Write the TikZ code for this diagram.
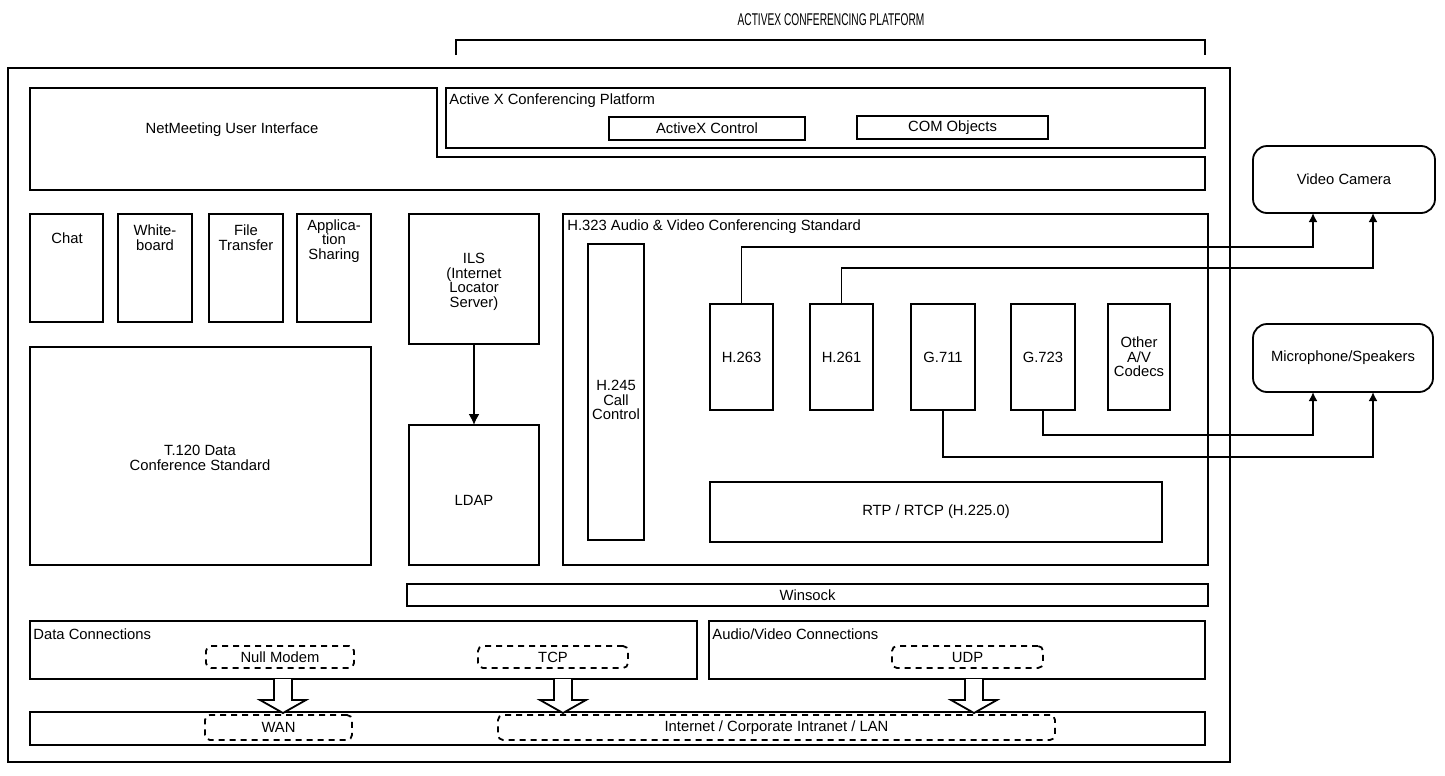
\documentclass[tikz,border=0pt]{standalone}
\usepackage{fontspec}
\usepackage{graphicx}
\setmainfont{Liberation Sans}
\usetikzlibrary{arrows.meta}
\tikzset{
  box/.style={draw, line width=0.9pt, inner sep=0pt, outer sep=0pt},
  dbox/.style={draw, line width=0.9pt, dash pattern=on 3pt off 2.5pt, rounded corners=2.5pt, inner sep=0pt, outer sep=0pt},
  rbox/.style={draw, line width=0.9pt, rounded corners=7pt, inner sep=0pt, outer sep=0pt},
  lbl/.style={inner sep=0pt, align=center, font=\fontsize{7.4}{7.3}\selectfont},
  wire/.style={line width=0.9pt},
  conn/.style={line width=0.9pt, -{Latex[length=4.5pt,width=4.5pt]}},
  barrow/.style={line width=0.9pt, fill=white, line join=miter}
}
\newcommand\mkbox[6][box]{%
  \pgfmathsetmacro\bw{(#5-#3)*0.5}%
  \pgfmathsetmacro\bh{(#6-#4)*0.5}%
  \node[#1, anchor=north west, minimum width=\bw pt, minimum height=\bh pt] (#2) at (#3,#4) {};}
\begin{document}
\begin{tikzpicture}[x=0.5pt, y=-0.5pt]
\useasboundingbox (0,0) rectangle (1445,776);
% title and bracket
\node[lbl, font=\fontsize{8.5}{8}\selectfont] (title) at (831,20) {\scalebox{0.6}[1]{ACTIVEX CONFERENCING PLATFORM}};
\coordinate (bl) at (456,55);
\coordinate (br) at (1205,55);
\draw[wire] (bl) -- ++(0,-15) -| (br);
% outer frame
\mkbox{outer}{8}{68}{1230}{762}
% NetMeeting user interface (L-shape)
\draw[wire] (30,88) -- (437,88) -- (437,157) -- (1205,157) -- (1205,190) -- (30,190) -- cycle;
\node[lbl] (tnm) at (232,130) {NetMeeting User Interface};
% ActiveX platform
\mkbox{axp}{446}{88}{1205}{148}
\node[lbl, anchor=west] (taxp) at (449,101) {Active X Conferencing Platform};
\mkbox{axc}{609}{117}{805}{140}
\node[lbl] at (axc.center) (taxc) {ActiveX Control};
\mkbox{com}{857}{116}{1048}{139}
\node[lbl] at (com.center) (tcom) {COM Objects};
% T.120 apps
\mkbox{chat}{30}{214}{103}{322}
\node[lbl] (tchat) at (67,238) {Chat};
\mkbox{wb}{118}{214}{192}{322}
\node[lbl] (twb) at (155,238) {White-\\board};
\mkbox{ft}{209}{214}{283}{322}
\node[lbl] (tft) at (246,238) {File\\Transfer};
\mkbox{as}{297}{214}{371}{322}
\node[lbl] (tas) at (334,241) {Applica-\\tion\\Sharing};
\mkbox{t120}{30}{347}{371}{565}
\node[lbl] (tt120) at (200,458) {T.120 Data\\Conference Standard};
% ILS / LDAP
\mkbox{ils}{409}{214}{539}{344}
\node[lbl] (tils) at (474,282) {ILS\\(Internet\\Locator\\Server)};
\mkbox{ldap}{409}{425}{539}{565}
\node[lbl] (tldap) at (474,500) {LDAP};
\draw[line width=0.9pt, -{Latex[length=5.5pt,width=5.5pt]}] (ils) -- (ldap);
% H.323
\mkbox{h323}{563}{214}{1208}{565}
\node[lbl, anchor=west] (th323) at (567,227) {H.323 Audio \& Video Conferencing Standard};
\mkbox{h245}{588}{244}{644}{540}
\node[lbl] (th245) at (616,400) {H.245\\Call\\Control};
\mkbox{h263}{710}{304}{773}{410}
\node[lbl] at (h263.center) (th263) {H.263};
\mkbox{h261}{810}{304}{873}{410}
\node[lbl] at (h261.center) (th261) {H.261};
\mkbox{g711}{911}{304}{975}{410}
\node[lbl] at (g711.center) (tg711) {G.711};
\mkbox{g723}{1011}{304}{1075}{410}
\node[lbl] at (g723.center) (tg723) {G.723};
\mkbox{oth}{1108}{304}{1170}{410}
\node[lbl] at (oth.center) (toth) {Other\\A/V\\Codecs};
\mkbox{rtp}{710}{482}{1162}{542}
\node[lbl] at (rtp.center) (trtp) {RTP / RTCP (H.225.0)};
% Winsock
\mkbox{ws}{407}{584}{1208}{606}
\node[lbl] at (ws.center) (tws) {Winsock};
% connections
\mkbox{dconn}{30}{621}{697}{679}
\node[lbl, anchor=west] (tdconn) at (33,634) {Data Connections};
\mkbox[dbox]{nullm}{206}{646}{354}{668}
\node[lbl] at (nullm.center) (tnullm) {Null Modem};
\mkbox[dbox]{tcp}{478}{646}{628}{668}
\node[lbl] at (tcp.center) (ttcp) {TCP};
\mkbox{avconn}{709}{621}{1205}{679}
\node[lbl, anchor=west] (tavconn) at (712,634) {Audio/Video Connections};
\mkbox[dbox]{udp}{892}{646}{1043}{668}
\node[lbl] at (udp.center) (tudp) {UDP};
% network
\mkbox{net}{30}{712}{1205}{745}
\mkbox[dbox]{wan}{205}{715}{352}{740}
\node[lbl] at (wan.center) (twan) {WAN};
\mkbox[dbox]{inet}{498}{715}{1055}{740}
\node[lbl] at (inet.center) (tinet) {Internet / Corporate Intranet / LAN};
% block arrows
\foreach \n/\ax in {a1/283, a2/563, a3/974}{
  \coordinate (\n) at (\ax,679);
  \draw[barrow, shift={(\n)}] (-9,0) -- (-9,21) -- (-23,21) -- (0,34) -- (23,21) -- (9,21) -- (9,0);
}
% external devices
\mkbox[rbox]{cam}{1253}{146}{1435}{213}
\node[lbl] at (cam.center) (tcam) {Video Camera};
\mkbox[rbox]{mic}{1253}{324}{1433}{392}
\node[lbl] at (mic.center) (tmic) {Microphone/Speakers};
% codec connectors
\coordinate (c1) at (1313,247);
\coordinate (c2) at (1373,268);
\coordinate (m1) at (1313,435);
\coordinate (m2) at (1373,457);
\draw[conn] (h263.north) |- (c1) -- (c1 |- cam.south);
\draw[conn] (h261.north) |- (c2) -- (c2 |- cam.south);
\draw[conn] (g723.south) |- (m1) -- (m1 |- mic.south);
\draw[conn] (g711.south) |- (m2) -- (m2 |- mic.south);
\end{tikzpicture}
\end{document}
